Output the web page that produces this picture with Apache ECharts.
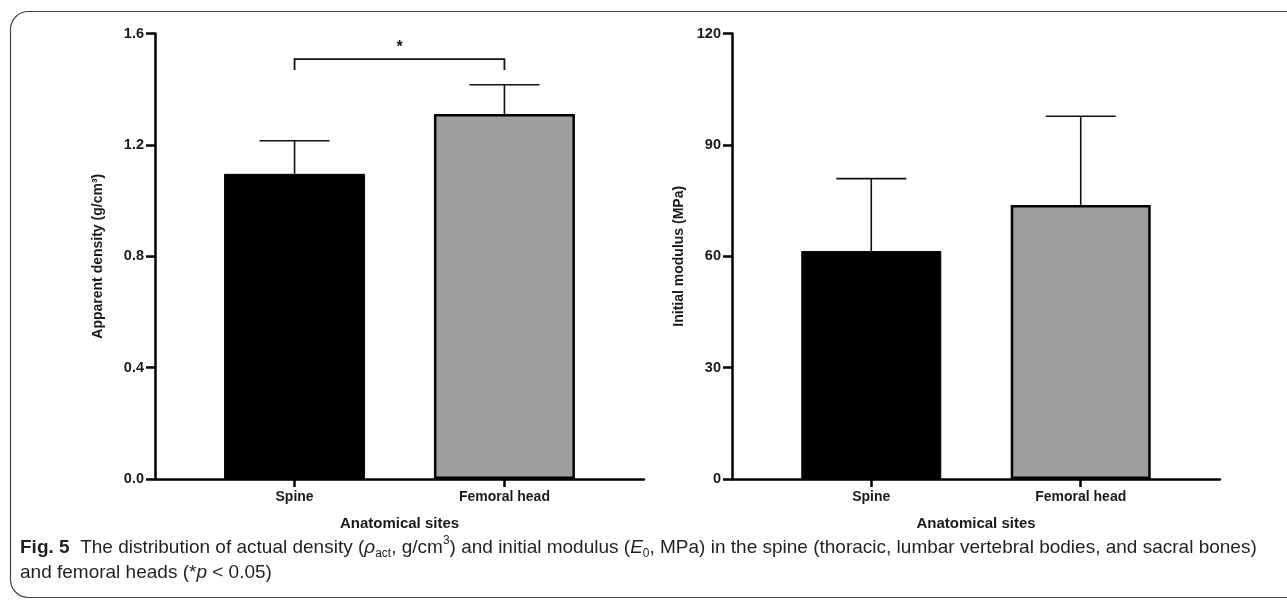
<!DOCTYPE html>
<html>
<head>
<meta charset="utf-8">
<script src="https://cdn.jsdelivr.net/npm/echarts@6/dist/echarts.min.js"></script>
<style>
  html, body { margin: 0; padding: 0; background: #fff; }
  #mycharts { width: 1287px; height: 602px; }
</style>
</head>
<body>
<div id="mycharts"></div>
<script>
  // categories on the x axis (placed at x = 1, 2)
  const sites = ["Spine", "Femoral head"];
  const sitePos = [1, 2];

  // left panel: apparent density (g/cm3), mean and mean + SD
  const densityMean = [1.096, 1.311];
  const densityUpper = [1.215, 1.416];

  // right panel: initial modulus (MPa), mean and mean + SD
  const modulusMean = [61.4, 73.8];
  const modulusUpper = [80.9, 97.7];

  // significance bracket over the left panel: from, to, top, leg end, star
  const bracket = [[1, 2, 1.508, 1.469, 1.548]];

  const barColors = ["#000000", "#9e9e9e"];
  const font = "Liberation Sans";

  var chartDom = document.getElementById("mycharts");
  var myChart = echarts.init(chartDom, null, { renderer: "canvas" });
  var option;

  const barData = (means) =>
    means.map((v, i) => ({
      value: [sitePos[i], v],
      itemStyle: {
        color: barColors[i],
        borderColor: "#000",
        borderWidth: i === 0 ? 1 : 2.5,
      },
    }));

  const errData = (means, uppers) =>
    means.map((v, i) => [sitePos[i], v, uppers[i]]);

  const errorRender = function (params, api) {
    const base = api.coord([api.value(0), api.value(1)]);
    const top = api.coord([api.value(0), api.value(2)]);
    const half = 35;
    return {
      type: "group",
      children: [
        {
          type: "line",
          shape: { x1: base[0], y1: base[1], x2: top[0], y2: top[1] },
          style: { stroke: "#111", lineWidth: 1.6 },
        },
        {
          type: "line",
          shape: { x1: top[0] - half, y1: top[1], x2: top[0] + half, y2: top[1] },
          style: { stroke: "#111", lineWidth: 1.6 },
        },
      ],
    };
  };

  const bracketRender = function (params, api) {
    const a = api.coord([api.value(0), api.value(2)]);
    const b = api.coord([api.value(1), api.value(2)]);
    const aLeg = api.coord([api.value(0), api.value(3)]);
    const star = api.coord([(api.value(0) + api.value(1)) / 2, api.value(4)]);
    return {
      type: "group",
      children: [
        {
          type: "polyline",
          shape: { points: [[aLeg[0], aLeg[1]], [a[0], a[1]], [b[0], b[1]], [b[0], aLeg[1]]] },
          style: { stroke: "#111", lineWidth: 1.8, fill: null },
        },
        {
          type: "text",
          x: star[0],
          y: star[1],
          style: {
            text: "*",
            font: "bold 16px " + font,
            fill: "#111",
            align: "center",
            verticalAlign: "middle",
          },
        },
      ],
    };
  };

  const xAxisCommon = {
    type: "value",
    min: 0.335,
    max: 2.665,
    name: "Anatomical sites",
    nameLocation: "middle",
    nameGap: 37,
    nameTextStyle: { fontFamily: font, fontWeight: "bold", fontSize: 15, color: "#1a1a1a" },
    axisLine: { show: true, lineStyle: { color: "#000", width: 2.5 } },
    axisTick: { show: true, length: 8, customValues: sitePos, lineStyle: { color: "#000", width: 2.5 } },
    axisLabel: {
      customValues: sitePos,
      margin: 11,
      fontFamily: font,
      fontWeight: "bold",
      fontSize: 14,
      color: "#1a1a1a",
      formatter: (v) => sites[Math.round(v) - 1],
    },
    splitLine: { show: false },
  };

  const yAxisCommon = {
    type: "value",
    min: 0,
    nameLocation: "middle",
    nameTextStyle: { fontFamily: font, fontWeight: "bold", fontSize: 14, color: "#1a1a1a" },
    axisLine: { show: true, lineStyle: { color: "#000", width: 2.5 } },
    axisTick: { show: true, length: 9, lineStyle: { color: "#000", width: 2.5 } },
    axisLabel: { margin: 11, fontFamily: font, fontWeight: "bold", fontSize: 14.5, color: "#1a1a1a" },
    splitLine: { show: false },
  };

  option = {
    backgroundColor: "#fff",
    animation: false,
    grid: [
      { left: 155, right: 643, top: 33.5, bottom: 123 },
      { left: 732, right: 67, top: 33.5, bottom: 123 },
    ],
    xAxis: [
      Object.assign({ gridIndex: 0 }, xAxisCommon),
      Object.assign({ gridIndex: 1 }, xAxisCommon),
    ],
    yAxis: [
      Object.assign({}, yAxisCommon, {
        gridIndex: 0,
        max: 1.6,
        interval: 0.4,
        name: "Apparent density (g/cm³)",
        nameGap: 50,
        axisLabel: Object.assign({}, yAxisCommon.axisLabel, { formatter: (v) => v.toFixed(1) }),
      }),
      Object.assign({}, yAxisCommon, {
        gridIndex: 1,
        max: 120,
        interval: 30,
        name: "Initial modulus (MPa)",
        nameGap: 46,
      }),
    ],
    series: [
      {
        type: "bar",
        xAxisIndex: 0,
        yAxisIndex: 0,
        barWidth: 141,
        data: barData(densityMean),
        z: 2,
      },
      {
        type: "custom",
        xAxisIndex: 0,
        yAxisIndex: 0,
        renderItem: errorRender,
        data: errData(densityMean, densityUpper),
        z: 3,
      },
      {
        type: "custom",
        xAxisIndex: 0,
        yAxisIndex: 0,
        renderItem: bracketRender,
        data: bracket,
        z: 3,
      },
      {
        type: "bar",
        xAxisIndex: 1,
        yAxisIndex: 1,
        barWidth: 140,
        data: barData(modulusMean),
        z: 2,
      },
      {
        type: "custom",
        xAxisIndex: 1,
        yAxisIndex: 1,
        renderItem: errorRender,
        data: errData(modulusMean, modulusUpper),
        z: 3,
      },
    ],
    graphic: [
      {
        type: "rect",
        shape: { x: 10.5, y: 11.5, width: 1300, height: 586, r: 18 },
        style: { fill: null, stroke: "#444", lineWidth: 1.2 },
        silent: true,
      },
      {
        type: "text",
        left: 20,
        top: 535,
        style: {
          text:
            "{b|Fig. 5}  The distribution of actual density ({i|ρ}{s|act}, g/cm{p|3}) and initial modulus ({i|E}{s|0}, MPa) in the spine (thoracic, lumbar vertebral bodies, and sacral bones)\n" +
            "and femoral heads (*{i|p} < 0.05)",
          fontFamily: font,
          fontSize: 19,
          lineHeight: 25,
          fill: "#231f20",
          rich: {
            b: { fontFamily: font, fontWeight: "bold", fontSize: 19, fill: "#231f20", lineHeight: 25 },
            i: { fontFamily: font, fontStyle: "italic", fontSize: 19, fill: "#231f20", lineHeight: 25 },
            s: { fontFamily: font, fontSize: 12, fill: "#231f20", lineHeight: 16, verticalAlign: "bottom" },
            p: { fontFamily: font, fontSize: 12, fill: "#231f20", lineHeight: 16, verticalAlign: "top" },
          },
        },
      },
    ],
  };

  option && myChart.setOption(option);
</script>
</body>
</html>
